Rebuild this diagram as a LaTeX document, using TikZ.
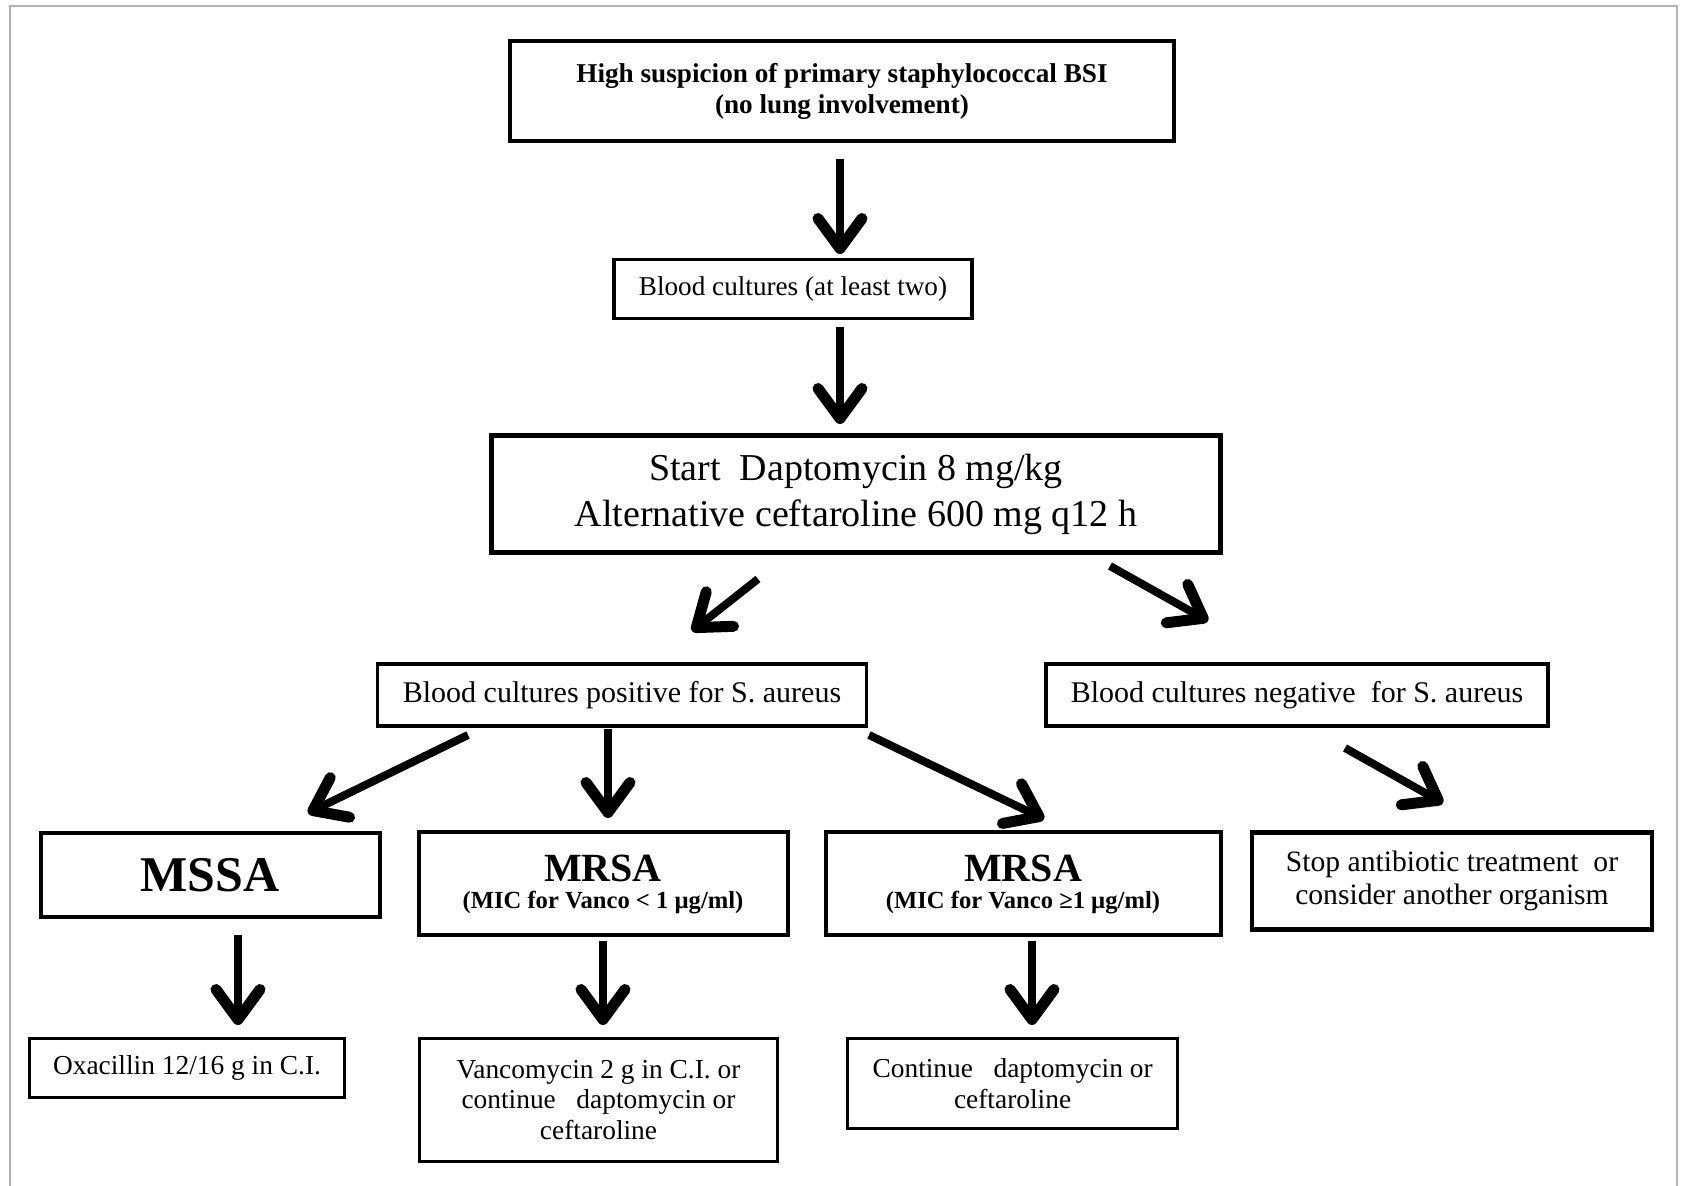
\documentclass[tikz,border=0pt]{standalone}
\usepackage{fontspec}
\setmainfont{Liberation Serif}
\usetikzlibrary{arrows.meta}
\begin{document}
\begin{tikzpicture}[x=0.5pt,y=-0.5pt,
  box/.style={draw,line width=1.7pt,inner sep=0pt,align=center,font=\fontsize{13}{16}\selectfont},
  arr/.style={line width=4pt,-{Straight Barb[length=15pt,width=22pt,line width=5.5pt,round]}}]
\useasboundingbox (0,0) rectangle (1682,1186);
\draw[gray!60,line width=0.9pt] (10,1186) -- (10,6) -- (1677,6) -- (1677,1186);

\node[box,line width=2.2pt,minimum width=332pt,minimum height=50pt,font=\bfseries\fontsize{13.6}{15.5}\selectfont] (top) at (842,91) {High suspicion of primary staphylococcal BSI\\(no lung involvement)};
\node[box,line width=1.6pt,minimum width=179pt,minimum height=29.5pt,font=\fontsize{13.6}{15}\selectfont] (blood) at (793,289) {Blood cultures (at least two)};
\node[box,line width=2.2pt,minimum width=364.5pt,minimum height=58.5pt,font=\fontsize{19}{23}\selectfont] (start) at (856,494) {Start\ \ Daptomycin 8 mg/kg\\Alternative ceftaroline 600 mg q12 h};
\node[box,minimum width=244.5pt,minimum height=31pt,font=\fontsize{15}{16}\selectfont] (pos) at (622,695) {Blood cultures positive for S. aureus};
\node[box,minimum width=251pt,minimum height=31pt,font=\fontsize{15}{16}\selectfont] (neg) at (1297,695) {Blood cultures negative\ \ for S. aureus};
\node[box,line width=2pt,minimum width=169.5pt,minimum height=42pt,font=\bfseries\fontsize{25}{28}\selectfont] (mssa) at (210,875) {MSSA};
\node[box,line width=2pt,minimum width=184.5pt,minimum height=51.5pt,font=\bfseries\fontsize{12.3}{13.5}\selectfont] (mrsa1) at (603,884) {{\fontsize{20}{24}\selectfont MRSA}\\(MIC for Vanco < 1 µg/ml)};
\node[box,line width=2pt,minimum width=197.5pt,minimum height=51.5pt,font=\bfseries\fontsize{12.3}{13.5}\selectfont] (mrsa2) at (1023,884) {{\fontsize{20}{24}\selectfont MRSA}\\(MIC for Vanco ≥1 µg/ml)};
\node[box,line width=2.2pt,minimum width=200pt,minimum height=48.5pt,font=\fontsize{14.8}{16.5}\selectfont] (stop) at (1452,881) {Stop antibiotic treatment\ \ or\\consider another organism};
\node[box,minimum width=157.5pt,minimum height=29.5pt,font=\fontsize{13.7}{15}\selectfont] (oxa) at (187,1068) {Oxacillin 12/16 g in C.I.};
\node[box,minimum width=179pt,minimum height=61.5pt,font=\fontsize{13.7}{15.3}\selectfont] (vanco) at (598.5,1100) {Vancomycin 2 g in C.I. or\\continue\ \ \ daptomycin or\\ceftaroline};
\node[box,minimum width=165pt,minimum height=45pt,font=\fontsize{13.7}{15.3}\selectfont] (cont) at (1012.6,1083.5) {Continue\ \ \ daptomycin or\\ceftaroline};

\coordinate (a1s) at (840,159); \coordinate (a1e) at (840,254);
\coordinate (a2s) at (840,327); \coordinate (a2e) at (840,424);
\coordinate (a3s) at (758,579); \coordinate (a3e) at (692,631);
\coordinate (a4s) at (1110,566); \coordinate (a4e) at (1208,621);
\coordinate (a5s) at (468,735); \coordinate (a5e) at (308,813);
\coordinate (a6s) at (608,729); \coordinate (a6e) at (608,818);
\coordinate (a7s) at (869,735); \coordinate (a7e) at (1044,819);
\coordinate (a8s) at (1345,748); \coordinate (a8e) at (1443,803);
\coordinate (a9s) at (238,935); \coordinate (a9e) at (238,1025);
\coordinate (a10s) at (603,941); \coordinate (a10e) at (603,1025);
\coordinate (a11s) at (1032,941); \coordinate (a11e) at (1032,1025);
\foreach \i in {1,...,11} {\draw[arr] (a\i s) -- (a\i e);}
\end{tikzpicture}
\end{document}
